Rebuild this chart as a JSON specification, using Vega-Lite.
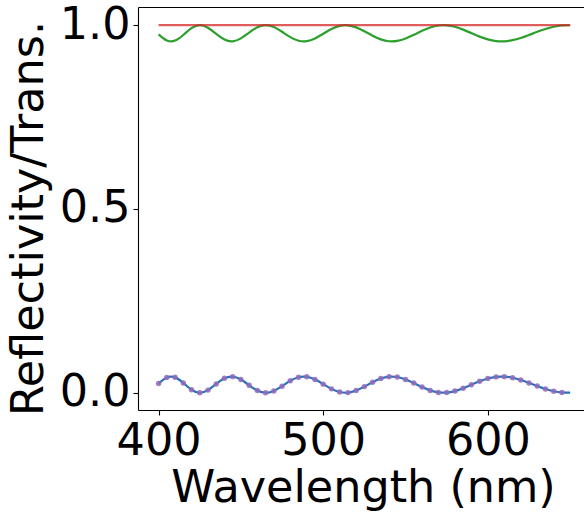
{
  "$schema": "https://vega.github.io/schema/vega-lite/v6.json",
  "width": 446,
  "height": 403,
  "autosize": {"type": "none"},
  "padding": {"left": 138, "top": 7, "right": 0, "bottom": 105},
  "config": {
    "font": "DejaVu Sans",
    "view": {"stroke": null},
    "axis": {
      "grid": false,
      "domainColor": "#000000",
      "domainWidth": 1.1,
      "tickColor": "#000000",
      "tickWidth": 1.1,
      "tickSize": 5,
      "labelFont": "DejaVu Sans",
      "labelFontSize": 44.5,
      "labelColor": "#000000",
      "titleFont": "DejaVu Sans",
      "titleFontSize": 44.5,
      "titleFontWeight": "normal",
      "titleColor": "#000000"
    }
  },
  "data": {
    "values": [
      {"wl": 400, "R": 0.0248, "T": 0.9752, "S": 1.0},
      {"wl": 405, "R": 0.0414, "T": 0.9586, "S": 1.0},
      {"wl": 410, "R": 0.0418, "T": 0.9582, "S": 1.0},
      {"wl": 415, "R": 0.0266, "T": 0.9734, "S": 1.0},
      {"wl": 420, "R": 0.0082, "T": 0.9918, "S": 1.0},
      {"wl": 425, "R": 0.0000, "T": 1.0000, "S": 1.0},
      {"wl": 430, "R": 0.0071, "T": 0.9929, "S": 1.0},
      {"wl": 435, "R": 0.0239, "T": 0.9761, "S": 1.0},
      {"wl": 440, "R": 0.0392, "T": 0.9608, "S": 1.0},
      {"wl": 445, "R": 0.0438, "T": 0.9562, "S": 1.0},
      {"wl": 450, "R": 0.0358, "T": 0.9642, "S": 1.0},
      {"wl": 455, "R": 0.0202, "T": 0.9798, "S": 1.0},
      {"wl": 460, "R": 0.0059, "T": 0.9941, "S": 1.0},
      {"wl": 465, "R": 0.0000, "T": 1.0000, "S": 1.0},
      {"wl": 470, "R": 0.0050, "T": 0.9950, "S": 1.0},
      {"wl": 475, "R": 0.0179, "T": 0.9821, "S": 1.0},
      {"wl": 480, "R": 0.0324, "T": 0.9676, "S": 1.0},
      {"wl": 485, "R": 0.0422, "T": 0.9578, "S": 1.0},
      {"wl": 490, "R": 0.0434, "T": 0.9566, "S": 1.0},
      {"wl": 495, "R": 0.0360, "T": 0.9640, "S": 1.0},
      {"wl": 500, "R": 0.0234, "T": 0.9766, "S": 1.0},
      {"wl": 505, "R": 0.0105, "T": 0.9895, "S": 1.0},
      {"wl": 510, "R": 0.0019, "T": 0.9981, "S": 1.0},
      {"wl": 515, "R": 0.0003, "T": 0.9997, "S": 1.0},
      {"wl": 520, "R": 0.0060, "T": 0.9940, "S": 1.0},
      {"wl": 525, "R": 0.0166, "T": 0.9834, "S": 1.0},
      {"wl": 530, "R": 0.0287, "T": 0.9713, "S": 1.0},
      {"wl": 535, "R": 0.0386, "T": 0.9614, "S": 1.0},
      {"wl": 540, "R": 0.0437, "T": 0.9563, "S": 1.0},
      {"wl": 545, "R": 0.0427, "T": 0.9573, "S": 1.0},
      {"wl": 550, "R": 0.0362, "T": 0.9638, "S": 1.0},
      {"wl": 555, "R": 0.0262, "T": 0.9738, "S": 1.0},
      {"wl": 560, "R": 0.0154, "T": 0.9846, "S": 1.0},
      {"wl": 565, "R": 0.0063, "T": 0.9937, "S": 1.0},
      {"wl": 570, "R": 0.0009, "T": 0.9991, "S": 1.0},
      {"wl": 575, "R": 0.0004, "T": 0.9996, "S": 1.0},
      {"wl": 580, "R": 0.0044, "T": 0.9956, "S": 1.0},
      {"wl": 585, "R": 0.0121, "T": 0.9879, "S": 1.0},
      {"wl": 590, "R": 0.0216, "T": 0.9784, "S": 1.0},
      {"wl": 595, "R": 0.0311, "T": 0.9689, "S": 1.0},
      {"wl": 600, "R": 0.0387, "T": 0.9613, "S": 1.0},
      {"wl": 605, "R": 0.0431, "T": 0.9569, "S": 1.0},
      {"wl": 610, "R": 0.0438, "T": 0.9562, "S": 1.0},
      {"wl": 615, "R": 0.0408, "T": 0.9592, "S": 1.0},
      {"wl": 620, "R": 0.0347, "T": 0.9653, "S": 1.0},
      {"wl": 625, "R": 0.0267, "T": 0.9733, "S": 1.0},
      {"wl": 630, "R": 0.0180, "T": 0.9820, "S": 1.0},
      {"wl": 635, "R": 0.0102, "T": 0.9898, "S": 1.0},
      {"wl": 640, "R": 0.0041, "T": 0.9959, "S": 1.0},
      {"wl": 645, "R": 0.0007, "T": 0.9993, "S": 1.0},
      {"wl": 650, "R": 0.0002, "T": 0.9998, "S": 1.0}
    ]
  },
  "resolve": {"axis": {"x": "independent", "y": "independent"}},
  "layer": [
    {
      "mark": {"type": "line", "color": "#1f77b4", "strokeWidth": 2.2, "interpolate": "natural"},
      "encoding": {
        "x": {
          "field": "wl", "type": "quantitative",
          "scale": {"domain": [387.5, 658.4], "nice": false, "zero": false},
          "axis": {
            "orient": "bottom",
            "title": "Wavelength (nm)",
            "values": [400, 500, 600],
            "labelBaseline": "alphabetic",
            "labelPadding": 39,
            "titleBaseline": "alphabetic",
            "titleX": 225,
            "titleY": 91,
            "titleAnchor": "middle"
          }
        },
        "y": {
          "field": "R", "type": "quantitative",
          "scale": {"domain": [-0.047, 1.0495], "nice": false, "zero": false},
          "axis": {
            "orient": "left",
            "title": "Reflectivity/Trans.",
            "values": [0, 0.5, 1],
            "format": ".1f",
            "labelPadding": 3,
            "titleAngle": -90,
            "titleBaseline": "alphabetic",
            "titleX": -96,
            "titleY": 211,
            "titleAnchor": "middle"
          }
        }
      }
    },
    {
      "transform": [{"filter": "datum.wl < 650"}],
      "mark": {"type": "point", "filled": true, "color": "#9467bd", "size": 30, "opacity": 0.85},
      "encoding": {
        "x": {"field": "wl", "type": "quantitative", "axis": {"orient": "top", "labels": false, "ticks": false, "title": null, "domainColor": "#000000", "domainWidth": 1.1}},
        "y": {"field": "R", "type": "quantitative", "axis": null}
      }
    },
    {
      "mark": {"type": "line", "color": "#2ca02c", "strokeWidth": 2.2, "interpolate": "natural"},
      "encoding": {
        "x": {"field": "wl", "type": "quantitative", "axis": null},
        "y": {"field": "T", "type": "quantitative", "axis": null}
      }
    },
    {
      "mark": {"type": "line", "color": "#d62728", "strokeWidth": 2.2, "opacity": 0.75},
      "encoding": {
        "x": {"field": "wl", "type": "quantitative", "axis": null},
        "y": {"field": "S", "type": "quantitative", "axis": null}
      }
    }
  ]
}
